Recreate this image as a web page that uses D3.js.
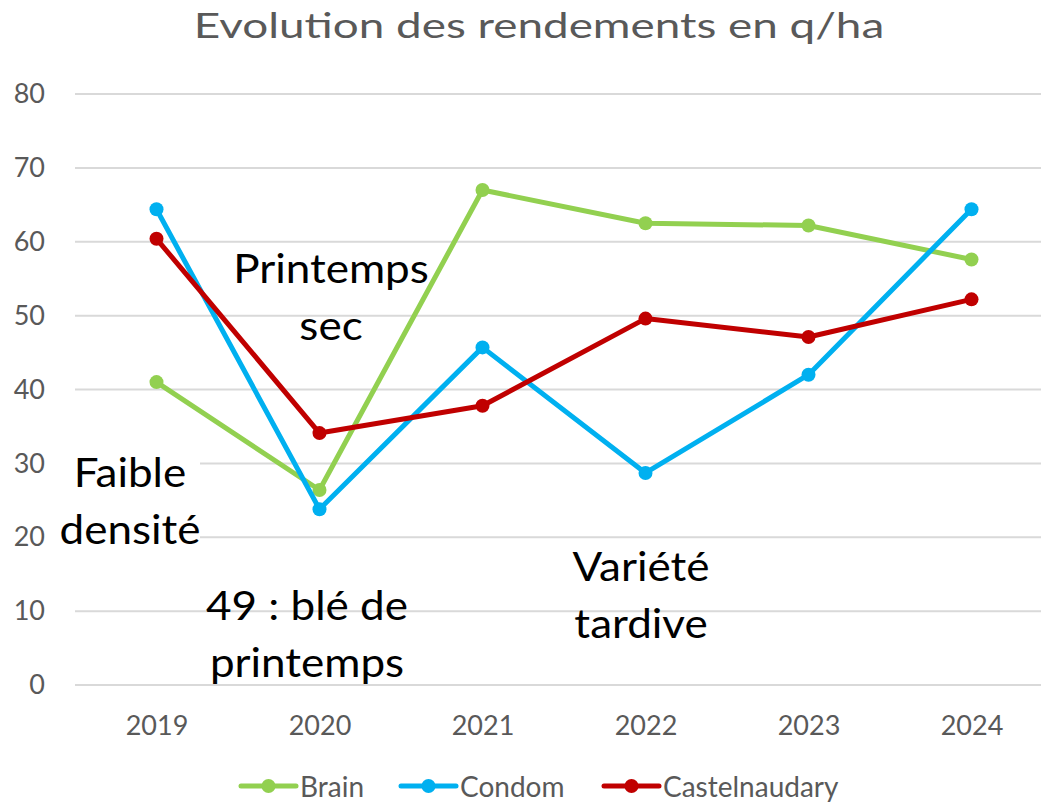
<!DOCTYPE html>
<meta charset="utf-8">
<title>Evolution des rendements</title>
<style>

body {
  margin: 0;
  background: #fff;
}

text {
  font-family: Lato, "Open Sans", sans-serif;
}

.grid line {
  stroke: #d9d9d9;
  stroke-width: 2px;
}

</style>
<body>
<script src="https://cdn.jsdelivr.net/npm/d3@7"></script>
<script>

var years = ["2019", "2020", "2021", "2022", "2023", "2024"];
var yTicks = [0, 10, 20, 30, 40, 50, 60, 70, 80];

var brain = [41, 26.4, 67, 62.5, 62.2, 57.6];
var condom = [64.4, 23.8, 45.7, 28.7, 42, 64.4];
var castelnaudary = [60.4, 34.1, 37.8, 49.6, 47.1, 52.2];

var seriesNames = ["Brain", "Condom", "Castelnaudary"];
var seriesColors = ["#92d050", "#00b0f0", "#c00000"];

var notes = [
  {lines: ["Printemps", "sec"], x: 331, y: 283, box: false},
  {lines: ["Faible", "densité"], x: 130, y: 487, box: true},
  {lines: ["49 : blé de", "printemps"], x: 307, y: 620, box: false},
  {lines: ["Variété", "tardive"], x: 641, y: 581, box: false}
];

var w = 1041,
    h = 803;

var series = [brain, condom, castelnaudary].map(function(v, i) {
  return {name: seriesNames[i], color: seriesColors[i], values: v};
});

var svg = d3.select("body").append("svg")
    .attr("width", w)
    .attr("height", h);

var x = d3.scalePoint()
    .domain(years)
    .range([75, 1053])
    .padding(0.5);

var y = d3.scaleLinear()
    .domain([0, 80])
    .range([685, 94]);

// title is a bit stretched in the original
svg.append("text")
    .attr("transform", "translate(539,38) scale(1.31,1)")
    .attr("text-anchor", "middle")
    .style("font-size", "35px")
    .style("fill", "#595959")
    .text("Evolution des rendements en q/ha");

svg.append("g")
    .attr("class", "grid")
  .selectAll("line")
    .data(yTicks)
  .enter().append("line")
    .attr("x1", 75)
    .attr("x2", 1053)
    .attr("y1", function(d) { return y(d); })
    .attr("y2", function(d) { return y(d); });

var yAxis = svg.append("g")
    .attr("transform", "translate(60,0)")
    .call(d3.axisLeft(y).tickValues(yTicks).tickSize(0).tickPadding(15));

var xAxis = svg.append("g")
    .attr("transform", "translate(0,685)")
    .call(d3.axisBottom(x).tickSize(0).tickPadding(31));

[yAxis, xAxis].forEach(function(g) {
  g.select(".domain").remove();
  g.selectAll("text")
      .style("font-family", "Lato, sans-serif")
      .style("font-size", "27px")
      .style("fill", "#595959");
});

// annotations (one has a white box behind it)
var note = svg.selectAll(".note")
    .data(notes)
  .enter().append("g")
    .attr("class", "note");

note.filter(function(d) { return d.box; }).append("rect")
    .attr("x", function(d) { return d.x - 72; })
    .attr("y", function(d) { return d.y - 40; })
    .attr("width", 142)
    .attr("height", 112)
    .style("fill", "#fff");

note.each(function(d) {
  var g = d3.select(this);
  d.lines.forEach(function(t, i) {
    g.append("text")
        .attr("transform", "translate(" + d.x + "," + (d.y + i * 57) + ") scale(1.1,1)")
        .attr("text-anchor", "middle")
        .style("font-size", "40px")
        .style("fill", "#000")
        .text(t);
  });
});

var line = d3.line()
    .x(function(d, i) { return x(years[i]); })
    .y(function(d) { return y(d); });

var s = svg.selectAll(".series")
    .data(series)
  .enter().append("g")
    .attr("class", "series");

s.append("path")
    .attr("d", function(d) { return line(d.values); })
    .style("fill", "none")
    .style("stroke", function(d) { return d.color; })
    .style("stroke-width", 5)
    .style("stroke-linejoin", "round")
    .style("stroke-linecap", "round");

s.selectAll("circle")
    .data(function(d) { return d.values.map(function(v, i) { return {v: v, i: i, color: d.color}; }); })
  .enter().append("circle")
    .attr("cx", function(d) { return x(years[d.i]); })
    .attr("cy", function(d) { return y(d.v); })
    .attr("r", 7)
    .style("fill", function(d) { return d.color; });

// legend
var legendX = [241, 401, 604];

var legend = svg.selectAll(".legend")
    .data(series)
  .enter().append("g")
    .attr("class", "legend")
    .attr("transform", function(d, i) { return "translate(" + legendX[i] + ",786)"; });

legend.append("line")
    .attr("x1", 0)
    .attr("x2", 55)
    .style("stroke", function(d) { return d.color; })
    .style("stroke-width", 5)
    .style("stroke-linecap", "round");

legend.append("circle")
    .attr("cx", 27.5)
    .attr("r", 7)
    .style("fill", function(d) { return d.color; });

legend.append("text")
    .attr("x", 59)
    .attr("y", 11)
    .style("font-size", "28px")
    .style("fill", "#595959")
    .text(function(d) { return d.name; });

</script>
